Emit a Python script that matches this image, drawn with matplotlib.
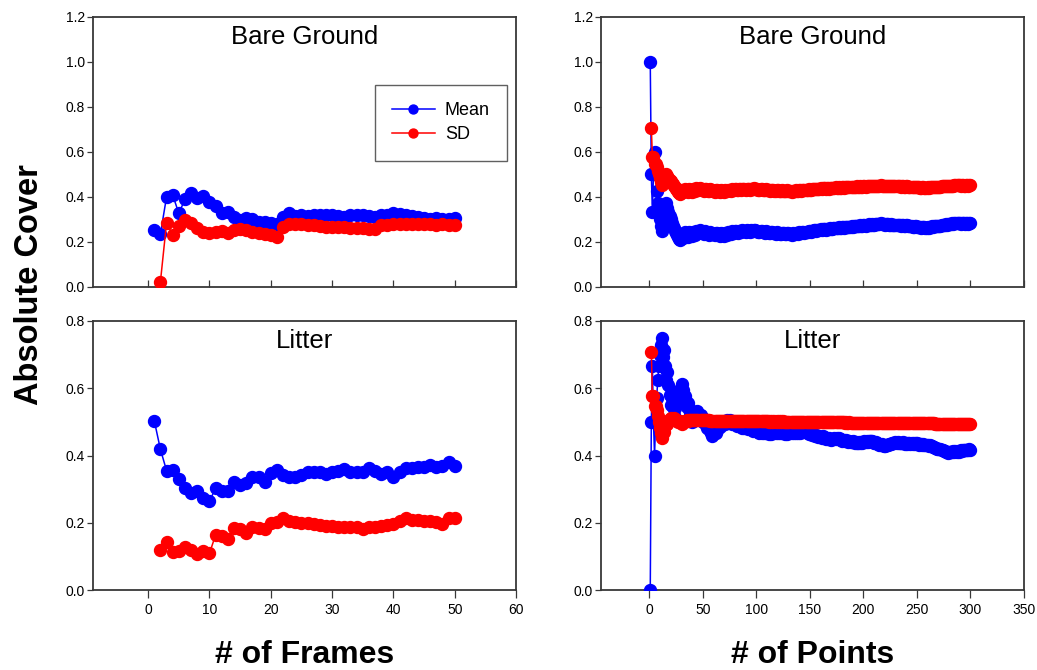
import numpy as np
import pandas as pd
import matplotlib
matplotlib.use("Agg")
import matplotlib.pyplot as plt

plt.rcParams["font.family"] = ["Liberation Sans", "DejaVu Sans"]

# ---- Frame-based sampling (running mean / SD of per-frame cover) ----
frames = np.arange(1, 51)

bare_frame_mean = [
    0.253, 0.236, 0.401, 0.409, 0.327, 0.390, 0.416, 0.394, 0.404, 0.379,
    0.360, 0.329, 0.335, 0.312, 0.298, 0.306, 0.300, 0.290, 0.287, 0.283,
    0.280, 0.312, 0.329, 0.315, 0.318, 0.315, 0.320, 0.318, 0.319, 0.320,
    0.315, 0.312, 0.320, 0.320, 0.318, 0.315, 0.310, 0.320, 0.320, 0.330,
    0.323, 0.318, 0.315, 0.310, 0.305, 0.303, 0.308, 0.304, 0.303, 0.305,
]
bare_frame_sd = [
    np.nan, 0.024, 0.286, 0.231, 0.271, 0.298, 0.284, 0.264, 0.246, 0.242,
    0.246, 0.250, 0.242, 0.253, 0.256, 0.253, 0.246, 0.242, 0.237, 0.231,
    0.221, 0.268, 0.280, 0.280, 0.278, 0.276, 0.274, 0.270, 0.268, 0.268,
    0.265, 0.265, 0.262, 0.262, 0.260, 0.258, 0.258, 0.275, 0.276, 0.278,
    0.278, 0.280, 0.280, 0.280, 0.278, 0.278, 0.276, 0.278, 0.276, 0.275,
]
litter_frame_mean = [
    0.503, 0.418, 0.355, 0.357, 0.329, 0.302, 0.288, 0.293, 0.273, 0.265,
    0.302, 0.293, 0.293, 0.322, 0.313, 0.318, 0.337, 0.335, 0.322, 0.347,
    0.357, 0.342, 0.337, 0.335, 0.342, 0.352, 0.352, 0.350, 0.345, 0.352,
    0.354, 0.359, 0.350, 0.352, 0.352, 0.362, 0.355, 0.345, 0.350, 0.337,
    0.352, 0.362, 0.362, 0.367, 0.365, 0.372, 0.367, 0.369, 0.382, 0.370,
]
litter_frame_sd = [
    np.nan, 0.119, 0.144, 0.114, 0.116, 0.127, 0.119, 0.107, 0.116, 0.109,
    0.164, 0.160, 0.151, 0.183, 0.180, 0.170, 0.188, 0.183, 0.180, 0.200,
    0.203, 0.213, 0.206, 0.203, 0.200, 0.200, 0.197, 0.194, 0.191, 0.190,
    0.188, 0.188, 0.186, 0.186, 0.180, 0.186, 0.186, 0.190, 0.194, 0.197,
    0.206, 0.213, 0.208, 0.207, 0.206, 0.206, 0.203, 0.197, 0.213, 0.215,
]

# ---- Point-intercept sampling: sample points that recorded a hit ----
n_points = 300
bare_point_hits = [
    1, 4, 5, 13, 15, 16,
    30, 33, 37, 41, 44, 47, 52, 57, 62, 67,
    71, 74, 77, 80, 84, 87, 91, 95, 98,
    104, 109, 114, 119, 124, 129,
    134, 137, 140, 143, 146, 149, 152, 154, 157, 160, 162,
    166, 169, 172, 174, 177, 180, 183, 186, 189, 191, 194,
    197, 200, 203, 205, 208, 211, 213, 216,
    221, 226, 231, 236, 240, 248, 255,
    260, 262, 264, 266, 268, 271, 273, 275, 277, 279, 281, 283, 285, 287,
    292, 296, 299,
]
litter_point_hits = [
    2, 3, 6, 7, 8, 9, 10, 11, 12,
    14, 17, 21, 24, 25, 26, 27, 29, 30, 31, 36,
    41, 42, 44, 45, 48, 51, 55,
    60, 61, 63, 64, 65, 67, 68, 70, 72, 73, 75,
    78, 80, 83, 85, 88, 90, 93, 95, 98, 100,
    104, 106, 108, 110, 113, 115, 117, 119, 121, 123, 125,
    128, 130, 132, 134, 136, 138, 140, 142, 144, 146,
    150, 153, 156, 159, 162, 166, 168, 171, 173, 175, 177,
    181, 184, 187, 190, 193, 196, 198, 200, 201, 203, 205, 207,
    212, 217, 221, 222, 224, 225, 227, 228, 230, 232,
    235, 237, 240, 242, 245, 247, 249, 253, 256, 259, 262,
    271, 280, 282, 284, 286, 288, 290, 291,
    293, 295, 297, 299,
]

frame_ticks = [0, 10, 20, 30, 40, 50, 60]
point_ticks = [0, 50, 100, 150, 200, 250, 300, 350]
top_yticks = [0.0, 0.2, 0.4, 0.6, 0.8, 1.0, 1.2]
bottom_yticks = [0.0, 0.2, 0.4, 0.6, 0.8]


def running_stats(hit_points, n):
    """Cumulative mean and sample SD of a 0/1 hit record."""
    obs = np.zeros(n)
    obs[np.asarray(hit_points) - 1] = 1.0
    s = pd.Series(obs)
    return s.expanding().mean().to_numpy(), s.expanding().std().to_numpy()


points = np.arange(1, n_points + 1)
bare_point_mean, bare_point_sd = running_stats(bare_point_hits, n_points)
litter_point_mean, litter_point_sd = running_stats(litter_point_hits, n_points)

BLUE = "#0000ff"
RED = "#ff0000"
SPINE = "#383838"

W, H = 1037, 670
fig = plt.figure(figsize=(W / 100, H / 100), dpi=100)


def px_axes(x0, x1, y0, y1):
    return fig.add_axes([x0 / W, 1 - y1 / H, (x1 - x0) / W, (y1 - y0) / H])


ax_tl = px_axes(93, 516, 17, 287)
ax_tr = px_axes(601, 1024, 17, 287)
ax_bl = px_axes(93, 516, 321, 590)
ax_br = px_axes(601, 1024, 321, 590)

series = [
    (ax_tl, frames, bare_frame_mean, bare_frame_sd, "Bare Ground"),
    (ax_tr, points, bare_point_mean, bare_point_sd, "Bare Ground"),
    (ax_bl, frames, litter_frame_mean, litter_frame_sd, "Litter"),
    (ax_br, points, litter_point_mean, litter_point_sd, "Litter"),
]

for ax, x, mean, sd, title in series:
    ax.plot(x, mean, "-o", color=BLUE, lw=1.1, ms=8.6, mec=BLUE, label="Mean", zorder=3)
    ax.plot(x, sd, "-o", color=RED, lw=1.1, ms=8.6, mec=RED, label="SD", zorder=4)
    ax.text(0.5, 0.925, title, transform=ax.transAxes, ha="center", va="center",
            fontsize=18.5)
    for sp in ax.spines.values():
        sp.set_color(SPINE)
        sp.set_linewidth(1.3)
    ax.tick_params(axis="y", direction="out", length=4.3, width=0.9,
                   labelsize=10, pad=1.5, color=SPINE)

for ax in (ax_tl, ax_bl):
    ax.set_xlim(-9, 60)
    ax.set_xticks(frame_ticks)
for ax in (ax_tr, ax_br):
    ax.set_xlim(-45, 350)
    ax.set_xticks(point_ticks)

for ax in (ax_tl, ax_tr):
    ax.set_ylim(0, 1.2)
    ax.set_yticks(top_yticks)
    ax.set_yticklabels([f"{v:.1f}" for v in top_yticks])
    ax.tick_params(axis="x", direction="in", length=5, width=0.9,
                   labelbottom=False, color=SPINE)
for ax in (ax_bl, ax_br):
    ax.set_ylim(0, 0.8)
    ax.set_yticks(bottom_yticks)
    ax.set_yticklabels([f"{v:.1f}" for v in bottom_yticks])
    ax.tick_params(axis="x", direction="out", length=5.8, width=0.9,
                   labelsize=10, pad=3.5, color=SPINE)

leg = ax_tl.legend(loc="upper right", bbox_to_anchor=(0.979, 0.748),
                   borderaxespad=0, fancybox=False, edgecolor=SPINE,
                   fontsize=13, markerscale=0.75, handlelength=2.4,
                   handletextpad=0.55, borderpad=0.95, labelspacing=0.4)
leg.get_frame().set_linewidth(1.0)

fig.text(304.5 / W, 1 - 663 / H, "# of Frames", ha="center", va="baseline",
         fontsize=23, fontweight="bold")
fig.text(812.5 / W, 1 - 663 / H, "# of Points", ha="center", va="baseline",
         fontsize=23, fontweight="bold")
fig.text(30 / W, 1 - 285 / H, "Absolute Cover", ha="center", va="center",
         rotation=90, fontsize=23.5, fontweight="bold")

fig.savefig("out.png", dpi=100)
